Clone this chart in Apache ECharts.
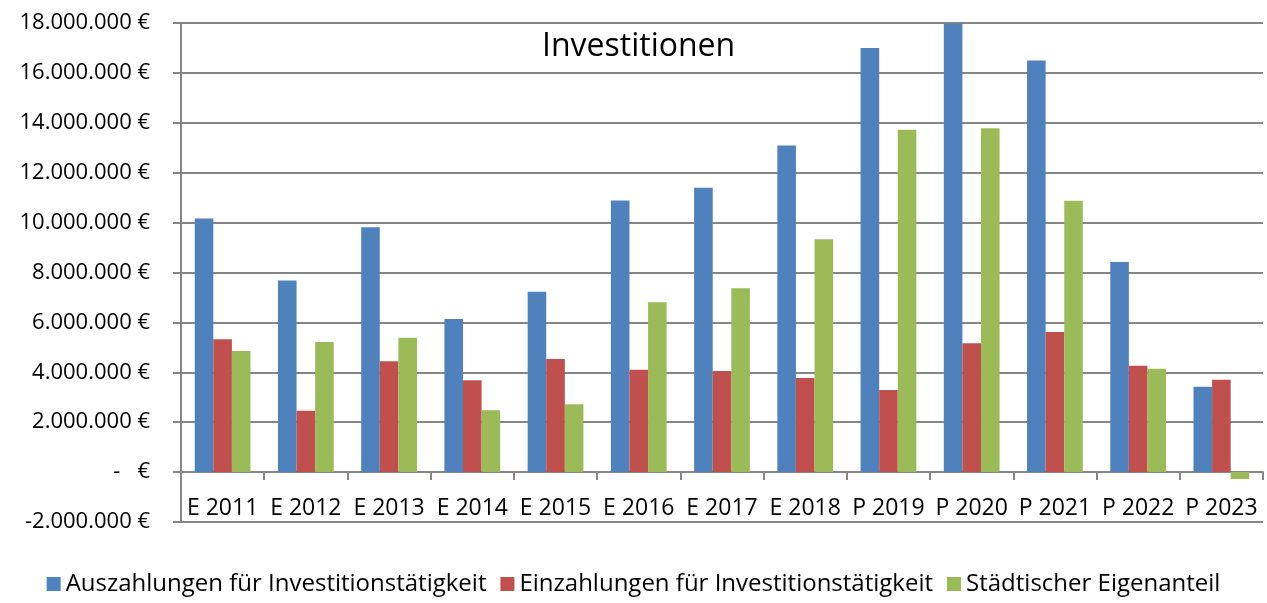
<html>
<head>
<meta charset="utf-8">
<script src="https://cdn.jsdelivr.net/npm/echarts@6/dist/echarts.min.js"></script>
<style>
  html, body { margin: 0; padding: 0; background: #fff; }
  #main { width: 1267px; height: 603px; }
</style>
</head>
<body>
<div id="main"></div>
<script>
// categories (E = Ergebnis, P = Plan)
var years = ['E 2011', 'E 2012', 'E 2013', 'E 2014', 'E 2015', 'E 2016', 'E 2017',
             'E 2018', 'P 2019', 'P 2020', 'P 2021', 'P 2022', 'P 2023'];

// values in euro
var auszahlungen = [10160000, 7680000, 9810000, 6140000, 7230000, 10890000, 11400000,
                    13090000, 17000000, 17980000, 16500000, 8420000, 3420000];
var einzahlungen = [5320000, 2460000, 4440000, 3680000, 4530000, 4100000, 4050000,
                    3770000, 3290000, 5160000, 5620000, 4260000, 3700000];
var eigenanteil = [4850000, 5210000, 5380000, 2480000, 2720000, 6810000, 7370000,
                   9330000, 13720000, 13780000, 10880000, 4140000, -280000];

var seriesNames = ['Auszahlungen für Investitionstätigkeit',
                   'Einzahlungen für Investitionstätigkeit',
                   'Städtischer Eigenanteil'];

var font = '"Open Sans", sans-serif';
var gridColor = '#868686';

function euro(v) {
    if (v === 0) return '-   €';
    var s = String(Math.abs(v)).replace(/\B(?=(\d{3})+(?!\d))/g, '.');
    return (v < 0 ? '-' : '') + s + ' €';
}

var chart = echarts.init(document.getElementById('main'));

chart.setOption({
    backgroundColor: '#fff',
    animation: false,
    color: ['#4F81BD', '#C0504D', '#9BBB59'],
    title: {
        text: 'Investitionen',
        left: 537,
        top: 26,
        textStyle: {
            fontFamily: font,
            fontSize: 32,
            fontWeight: 'normal',
            color: '#000'
        }
    },
    legend: {
        data: seriesNames,
        bottom: 2,
        left: 'center',
        icon: 'rect',
        itemWidth: 14,
        itemHeight: 14,
        itemGap: 14,
        textStyle: {
            fontFamily: font,
            fontSize: 24,
            color: '#000'
        }
    },
    grid: {
        left: 181,
        right: 4,
        top: 23,
        bottom: 81
    },
    xAxis: {
        type: 'category',
        data: years,
        axisLine: {
            onZero: true,
            lineStyle: { color: gridColor, width: 2 }
        },
        axisTick: {
            show: true,
            length: 8,
            lineStyle: { color: gridColor, width: 2 }
        },
        axisLabel: {
            interval: 0,
            margin: -25,
            fontFamily: font,
            fontSize: 23,
            color: '#000'
        },
        splitLine: { show: false }
    },
    yAxis: {
        type: 'value',
        min: -2000000,
        max: 18000000,
        interval: 2000000,
        axisLine: {
            show: true,
            lineStyle: { color: gridColor, width: 2 }
        },
        axisTick: {
            show: true,
            length: 8,
            lineStyle: { color: gridColor, width: 2 }
        },
        axisLabel: {
            margin: 31,
            fontFamily: font,
            fontSize: 22,
            color: '#000',
            formatter: euro
        },
        splitLine: {
            lineStyle: { color: gridColor, width: 2 }
        }
    },
    series: [{
        name: seriesNames[0],
        type: 'bar',
        data: auszahlungen,
        barGap: '0%',
        barCategoryGap: '33%'
    }, {
        name: seriesNames[1],
        type: 'bar',
        data: einzahlungen
    }, {
        name: seriesNames[2],
        type: 'bar',
        data: eigenanteil
    }]
});
</script>
</body>
</html>
